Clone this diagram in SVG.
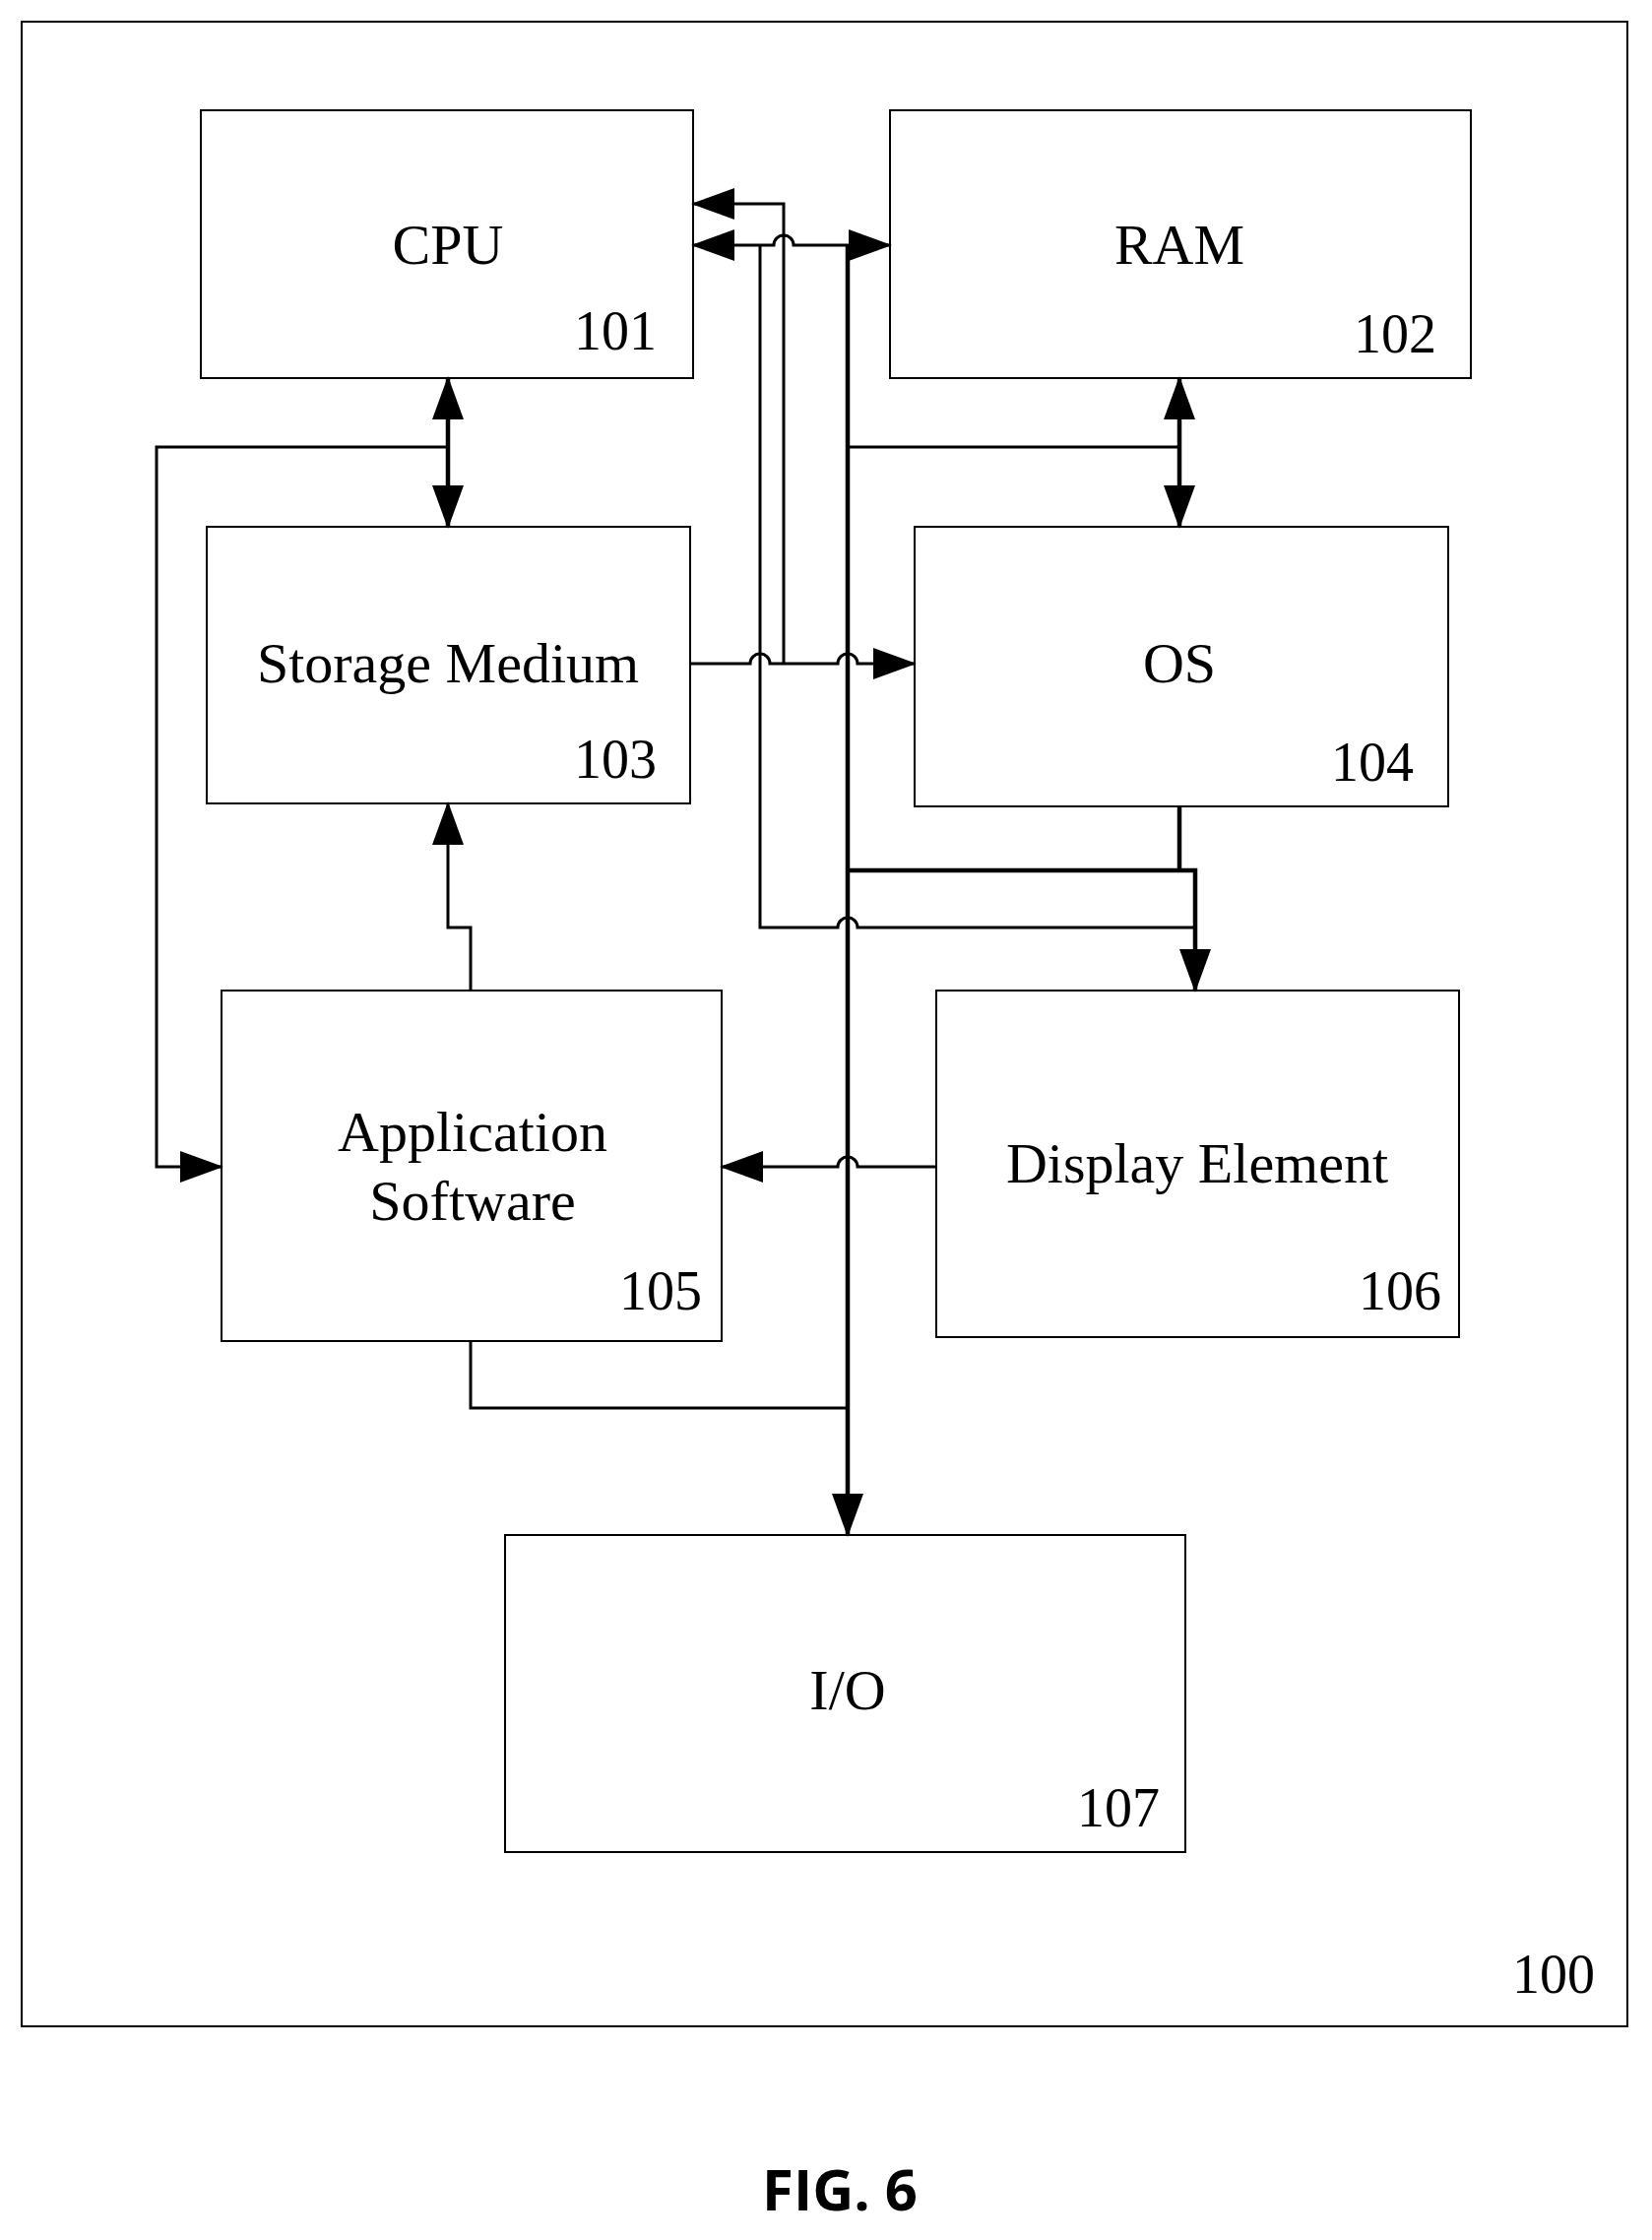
<svg xmlns="http://www.w3.org/2000/svg" width="1678" height="2275" viewBox="0 0 1678 2275">
<style>
.box{fill:#fff;stroke:#000;stroke-width:2}
.t{font-family:"Liberation Serif",serif;font-size:58px;fill:#000;text-anchor:middle}
.n{font-family:"Liberation Serif",serif;font-size:56px;fill:#000;text-anchor:end}
.c{fill:none;stroke:#000;stroke-width:3}
.b{fill:none;stroke:#000;stroke-width:4.5}
</style>
<defs>
<marker id="a" markerUnits="userSpaceOnUse" markerWidth="44" markerHeight="32" refX="42" refY="16" orient="auto-start-reverse"><path d="M0,0 L44,16 L0,32 Z" fill="#000"/></marker>
</defs>
<rect width="1678" height="2275" fill="#fff"/>
<rect x="22" y="22" width="1631" height="2036" fill="none" stroke="#000" stroke-width="2"/>
<text class="n" x="1620" y="2024">100</text>
<g id="cpu"><rect class="box" x="204" y="112" width="500" height="272"/><text class="t" x="455" y="268">CPU</text><text class="n" x="667" y="355">101</text></g>
<g id="ram"><rect class="box" x="904" y="112" width="590" height="272"/><text class="t" x="1198" y="268">RAM</text><text class="n" x="1459" y="358">102</text></g>
<g id="storage"><rect class="box" x="210" y="535" width="491" height="281"/><text class="t" x="455" y="693">Storage Medium</text><text class="n" x="667" y="790">103</text></g>
<g id="os"><rect class="box" x="929" y="535" width="542" height="284"/><text class="t" x="1198" y="693">OS</text><text class="n" x="1436" y="793">104</text></g>
<g id="app"><rect class="box" x="225" y="1006" width="508" height="356"/><text class="t" x="480" y="1169">Application</text><text class="t" x="480" y="1239">Software</text><text class="n" x="713" y="1330">105</text></g>
<g id="display"><rect class="box" x="951" y="1006" width="531" height="352"/><text class="t" x="1216" y="1201">Display Element</text><text class="n" x="1464" y="1330">106</text></g>
<g id="io"><rect class="box" x="513" y="1559" width="691" height="322"/><text class="t" x="861" y="1736">I/O</text><text class="n" x="1178" y="1855">107</text></g>
<g id="connectors">
<path class="b" d="M861,249 V1559" marker-end="url(#a)"/>
<path class="c" d="M796,674 V207 H704" marker-end="url(#a)"/>
<path class="c" d="M704,249 H786 A10,10 0 0 1 806,249 H904" marker-start="url(#a)" marker-end="url(#a)"/>
<path class="c" d="M772,249 V942 H851 A10,10 0 0 1 871,942 H1214"/>
<path class="c" d="M701,674 H762 A10,10 0 0 1 782,674 H851 A10,10 0 0 1 871,674 H929" marker-end="url(#a)"/>
<path class="b" d="M1198,819 V884"/>
<path class="b" d="M861,884 H1214 V1006" marker-end="url(#a)"/>
<path class="c" d="M861,454 H1198"/>
<path class="b" d="M1198,384 V535" marker-start="url(#a)" marker-end="url(#a)"/>
<path class="b" d="M455,384 V535" marker-start="url(#a)" marker-end="url(#a)"/>
<path class="c" d="M455,454 H159 V1185 H225" marker-end="url(#a)"/>
<path class="c" d="M478,1006 V942 H455 V816" marker-end="url(#a)"/>
<path class="c" d="M951,1185 H871 A10,10 0 0 0 851,1185 H733" marker-end="url(#a)"/>
<path class="c" d="M478,1362 V1430 H861"/>
</g>
<text x="853" y="2245" font-family="'Open Sans','Liberation Sans',sans-serif" font-weight="bold" font-size="58" text-anchor="middle">FIG. 6</text>
</svg>
